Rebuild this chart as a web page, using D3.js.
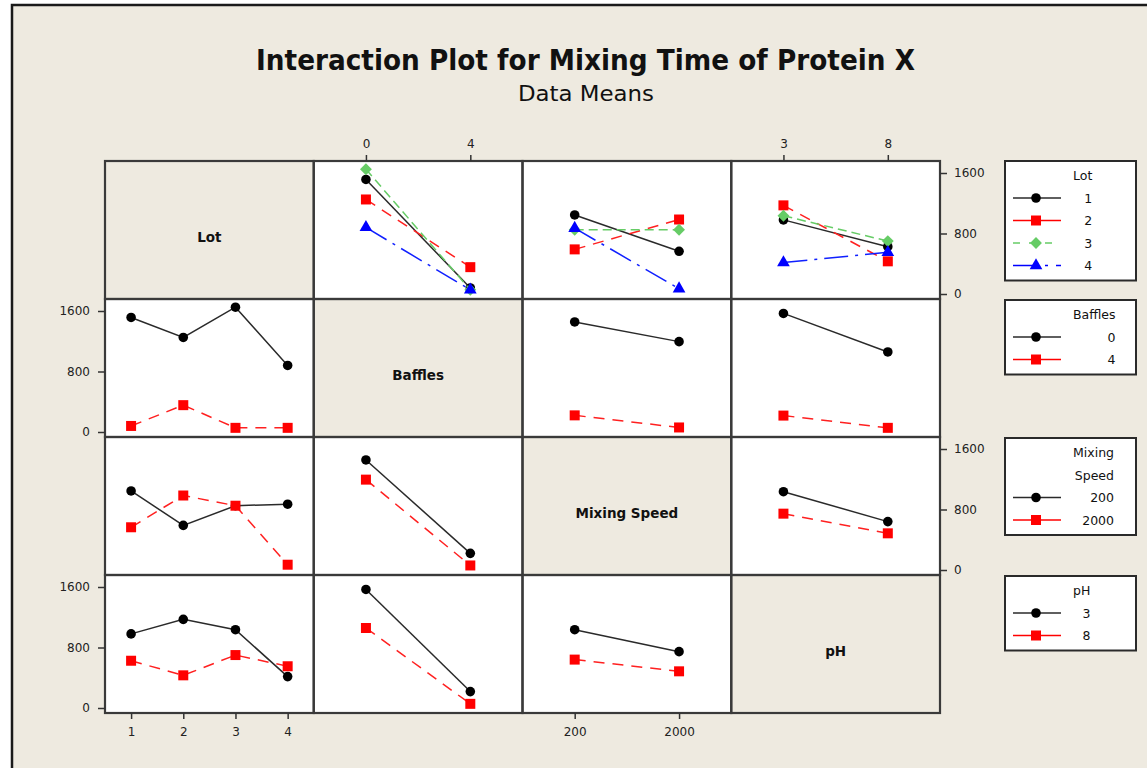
<!DOCTYPE html>
<html><head><meta charset="utf-8">
<script src="https://cdn.jsdelivr.net/npm/d3@7"></script>
<style>body{margin:0;background:#fff} svg{display:block}</style>
</head><body>
<svg id="chart" width="1147" height="768"></svg>
<script>
// ---------------- data ----------------
const titleText = "Interaction Plot for Mixing Time of Protein X";
const subtitleText = "Data Means";
const factorNames = ["Lot", "Baffles", "Mixing Speed", "pH"];
const legendTitles = [["Lot"], ["Baffles"], ["Mixing", "Speed"], ["pH"]];
const lotLevels = ["1", "2", "3", "4"];
const bafflesLevels = ["0", "4"];
const speedLevels = ["200", "2000"];
const phLevels = ["3", "8"];
const yTicks = [0, 800, 1600];
// means: rows = levels of first factor, columns = levels of second factor
const lotByBaffles = [[1515, 80], [1250, 355], [1650, 55], [880, 55]];
const lotBySpeed = [[1045, 565], [590, 985], [850, 850], [870, 70]];
const lotByPh = [[980, 625], [1172, 432], [1035, 700], [415, 552]];
const bafflesBySpeed = [[1455, 1195], [220, 60]];
const bafflesByPh = [[1568, 1058], [217, 55]];
const speedByPh = [[1035, 640], [745, 485]];

// ---------------- setup ----------------
const levels = [lotLevels, bafflesLevels, speedLevels, phLevels];
const tables = {"0-1": lotByBaffles, "0-2": lotBySpeed, "0-3": lotByPh,
                "1-2": bafflesBySpeed, "1-3": bafflesByPh, "2-3": speedByPh};
function means(i, j) { // series = levels of factor i, x = levels of factor j
  if (i < j) return tables[i + "-" + j];
  const t = tables[j + "-" + i];
  return levels[i].map((_, a) => levels[j].map((_, b) => t[b][a]));
}

const BG = "#eeeae0";
const colors = ["#000000", "#ff0000", "#66cc66", "#0000ff"];
const lineColors = ["#2a2a2a", "#ff2020", "#66cc66", "#1020ff"];
const dashes = [null, "11,8", "9,5", "24,7,3,7"];
const legendDashes = [null, null, "7,9", "24,8,3,8"];
const symbols = [d3.symbolCircle, d3.symbolSquare, d3.symbolSquare, d3.symbolTriangle];
const symSizes = [72, 100, 70, 70];
const symRot = [0, 0, 45, 0];

const svg = d3.select("#chart");
const FONT = "'DejaVu Sans', Verdana, sans-serif";

// outer frame
svg.append("rect").attr("x", 0).attr("y", 0).attr("width", 1147).attr("height", 768).attr("fill", "#fff");
svg.append("rect").attr("x", 12).attr("y", 5).attr("width", 1160).attr("height", 800)
  .attr("fill", BG).attr("stroke", "#1a1a1a").attr("stroke-width", 2.5);

// titles
svg.append("text").attr("x", 585.5).attr("y", 70).attr("text-anchor", "middle")
  .attr("font-family", "'DejaVu Sans Condensed','DejaVu Sans',sans-serif").attr("font-weight", "bold")
  .attr("font-size", 29).attr("textLength", 659).attr("lengthAdjust", "spacingAndGlyphs")
  .attr("fill", "#111").text(titleText);
svg.append("text").attr("x", 586).attr("y", 101).attr("text-anchor", "middle")
  .attr("font-family", "'DejaVu Sans Condensed','DejaVu Sans',sans-serif")
  .attr("font-size", 21).attr("textLength", 136).attr("lengthAdjust", "spacingAndGlyphs")
  .attr("fill", "#111").text(subtitleText);

const gx0 = 105, gy0 = 161, cw = 208.75, ch = 138;
const n = factorNames.length;

function xScaleFor(j) {
  const x = gx0 + j * cw;
  return d3.scalePoint().domain(levels[j]).range([x, x + cw]).padding(0.5);
}
function yScaleFor(i) {
  const y = gy0 + i * ch;
  return d3.scaleLinear().domain([0, 1600]).range([y + 133, y + 12]);
}

function drawMarker(g, k, x, y) {
  g.append("path")
    .attr("d", d3.symbol().type(symbols[k]).size(symSizes[k])())
    .attr("transform", `translate(${x},${y}) rotate(${symRot[k]})`)
    .attr("fill", colors[k]);
}

const cells = svg.append("g");
for (let i = 0; i < n; i++) {
  for (let j = 0; j < n; j++) {
    const x = gx0 + j * cw, y = gy0 + i * ch;
    cells.append("rect").attr("x", x).attr("y", y).attr("width", cw).attr("height", ch)
      .attr("fill", i === j ? BG : "#fff");
    if (i === j) {
      cells.append("text").attr("x", x + cw / 2).attr("y", y + ch / 2 + 12)
        .attr("text-anchor", "middle").attr("font-family", FONT).attr("font-weight", "bold")
        .attr("font-size", 13.5).attr("fill", "#111").text(factorNames[i]);
      continue;
    }
    const xs = xScaleFor(j), ys = yScaleFor(i);
    const m = means(i, j);
    const line = d3.line().x((d, b) => xs(levels[j][b])).y(d => ys(d));
    m.forEach((row, k) => {
      const g = cells.append("g");
      g.append("path").attr("d", line(row)).attr("fill", "none")
        .attr("stroke", lineColors[k]).attr("stroke-width", 1.5)
        .attr("stroke-dasharray", dashes[k]);
      row.forEach((v, b) => drawMarker(g, k, xs(levels[j][b]), ys(v)));
    });
  }
}

// grid lines
const grid = svg.append("g");
for (let i = 0; i < n; i++) for (let j = 0; j < n; j++) {
  grid.append("rect").attr("x", gx0 + j * cw).attr("y", gy0 + i * ch).attr("width", cw).attr("height", ch)
    .attr("fill", "none").attr("stroke", "#3a3a3a").attr("stroke-width", 2.2);
}

// axes
function styleAxis(g) {
  g.select(".domain").remove();
  g.selectAll(".tick line").attr("stroke", "#333").attr("stroke-width", 1.5);
  g.selectAll(".tick text").attr("font-family", FONT).attr("font-size", 12).attr("fill", "#222");
}
const fmt = d3.format("d");
for (let j = 0; j < n; j++) {
  const xs = xScaleFor(j);
  if (j % 2 === 1) {
    svg.append("g").attr("transform", `translate(0,${gy0})`)
      .call(d3.axisTop(xs).tickSize(6).tickPadding(7)).call(styleAxis);
  } else {
    svg.append("g").attr("transform", `translate(0,${gy0 + n * ch})`)
      .call(d3.axisBottom(xs).tickSize(6).tickPadding(8)).call(styleAxis);
  }
}
for (let i = 0; i < n; i++) {
  const ys = yScaleFor(i);
  if (i % 2 === 0) {
    svg.append("g").attr("transform", `translate(${gx0 + n * cw},0)`)
      .call(d3.axisRight(ys).tickValues(yTicks).tickFormat(fmt).tickSize(7).tickPadding(7)).call(styleAxis);
  } else {
    svg.append("g").attr("transform", `translate(${gx0},0)`)
      .call(d3.axisLeft(ys).tickValues(yTicks).tickFormat(fmt).tickSize(7).tickPadding(8)).call(styleAxis);
  }
}

// legends
const lx = 1005, lw = 131, rowH = 22.5;
for (let i = 0; i < n; i++) {
  const top = gy0 + i * ch + (i === 0 ? 0 : 1);
  const titles = legendTitles[i];
  const levs = levels[i];
  const h = 14.5 + rowH * (titles.length + levs.length - 1) + 15;
  const g = svg.append("g");
  g.append("rect").attr("x", lx).attr("y", top).attr("width", lw).attr("height", h)
    .attr("fill", "#fff").attr("stroke", "#2a2a2a").attr("stroke-width", 2);
  const texts = [];
  titles.forEach((t, q) => texts.push({t, y: top + 14.5 + rowH * q}));
  levs.forEach((t, k) => texts.push({t, y: top + 14.5 + rowH * (titles.length + k), k}));
  const tEls = texts.map(d => g.append("text").attr("y", d.y + 4.5)
    .attr("font-family", FONT).attr("font-size", 12.5).attr("fill", "#111").attr("text-anchor", "end").text(d.t));
  const maxW = d3.max(tEls, e => e.node().getComputedTextLength());
  const right = 1073 + maxW;
  tEls.forEach(e => e.attr("x", right));
  texts.filter(d => d.k !== undefined).forEach(d => {
    const k = d.k;
    g.append("line").attr("x1", 1013).attr("x2", 1061).attr("y1", d.y).attr("y2", d.y)
      .attr("stroke", colors[k] === "#000000" ? "#2a2a2a" : colors[k]).attr("stroke-width", 1.5)
      .attr("stroke-dasharray", legendDashes[k]);
    drawMarker(g, k, 1036, d.y);
  });
}
</script>
</body></html>
